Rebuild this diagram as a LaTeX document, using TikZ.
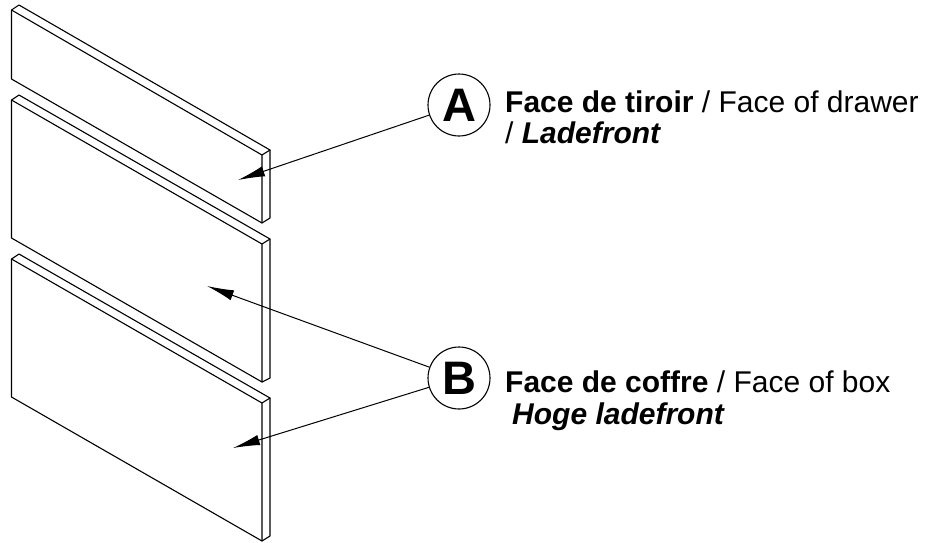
\documentclass[tikz,border=0pt]{standalone}
\usepackage{fontspec}
\setmainfont{Liberation Sans}
\usetikzlibrary{arrows.meta}
\tikzset{
  edge/.style={draw=black,line width=1.1pt,line join=round,line cap=round},
  callout/.style={circle,draw=black,line width=1.1pt,minimum size=62pt,inner sep=0pt,font=\fontsize{47}{47}\selectfont\bfseries},
  lbl/.style={anchor=base west,inner sep=0pt,font=\fontsize{30}{34}\selectfont},
  lead/.style={draw=black,line width=1pt,-{Latex[length=27pt,width=10.5pt]}}
}
\begin{document}
\begin{tikzpicture}[x=1pt,y=-1pt]
\useasboundingbox[fill=white] (0,0) rectangle (933,542);
% panel 1
\draw[edge] (11.5,79) -- (11.5,10) -- (19,5) -- (270,150) -- (270,218) -- (262,223) -- cycle;
\draw[edge] (11.5,10) -- (262,155) -- (270,150) (262,155) -- (262,223);
% panel 2
\draw[edge] (11.5,238) -- (11.5,100) -- (19,95) -- (270,239) -- (270,378) -- (262,382) -- cycle;
\draw[edge] (11.5,100) -- (262,244) -- (270,239) (262,244) -- (262,382);
% panel 3
\draw[edge] (11.5,397) -- (11.5,259) -- (19,254) -- (270,398) -- (270,536) -- (262,541) -- cycle;
\draw[edge] (11.5,259) -- (262,403) -- (270,398) (262,403) -- (262,541);
% callouts
\node[callout] (A) at (459,105) {A};
\node[callout] (B) at (459,378) {B};
\coordinate (tipA) at (238,180);
\coordinate (tipB1) at (207,286);
\coordinate (tipB2) at (233,448);
\draw[lead] (A) -- (tipA);
\draw[lead] (B) -- (tipB1);
\draw[lead] (B) -- (tipB2);
% labels
\node[lbl] (a1) at (505,112) {\textbf{Face de tiroir} / Face of drawer};
\node[lbl] (a2) at (505,143) {/ \textbf{\textit{Ladefront}}};
\node[lbl] (b1) at (505,392) {\textbf{Face de coffre} / Face of box};
\node[lbl] (b2) at (512,424) {\textbf{\textit{Hoge ladefront}}};
\end{tikzpicture}
\end{document}
